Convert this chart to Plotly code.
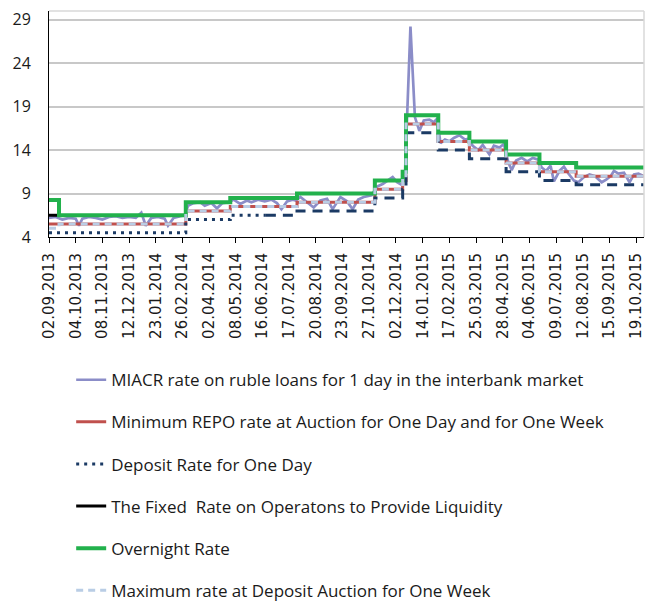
import plotly.graph_objects as go

# ---------------- data ----------------
tick_labels = ["02.09.2013", "04.10.2013", "08.11.2013", "12.12.2013", "23.01.2014",
               "26.02.2014", "02.04.2014", "08.05.2014", "16.06.2014", "17.07.2014",
               "20.08.2014", "23.09.2014", "27.10.2014", "02.12.2014", "14.01.2015",
               "17.02.2015", "25.03.2015", "28.04.2015", "04.06.2015", "09.07.2015",
               "12.08.2015", "15.09.2015", "19.10.2015"]
OBS_PER_LABEL = 24          # trading days between labelled dates
LAST_OBS = 535

# policy-rate step series: start of each regime (trading-day index) and rate
regime_start = [0, 9, 123, 163, 223, 293, 318, 321, 350, 378, 411, 441, 474]
overnight_rate = [8.25, 6.5, 8.0, 8.5, 9.0, 10.5, 11.5, 18.0, 16.0, 15.0, 13.5, 12.5, 12.0]
repo_min_rate = [5.5, 5.5, 7.0, 7.5, 8.0, 9.5, 10.5, 17.0, 15.0, 14.0, 12.5, 11.5, 11.0]
deposit_1d_rate = [4.5, 4.5, 6.0, 6.5, 7.0, 8.5, 9.5, 16.0, 14.0, 13.0, 11.5, 10.5, 10.0]
deposit_auction_max = [5.0, 5.5, 7.0, 7.5, 8.0, 9.5, 10.5, 17.0, 15.0, 14.0, 12.5, 11.5, 11.0]

fixed_x = [0, 9]
fixed_rate = [6.5, 6.5]

# MIACR overnight interbank rate
miacr_x = [0, 6, 12, 18, 24, 27, 30, 36, 42, 48, 54, 60, 66, 72, 78, 83, 87, 92, 98, 104,
           107, 112, 118, 122, 125, 130, 136, 140, 146, 151, 156, 162, 166, 172, 178, 182,
           188, 194, 200, 205, 209, 214, 219, 222, 226, 232, 238, 244, 250, 255, 262, 268,
           273, 278, 283, 290, 295, 300, 305, 309, 313, 317, 320, 322, 325, 329, 333, 337,
           342, 346, 349, 352, 356, 360, 364, 369, 374, 377, 381, 386, 390, 396, 400, 405,
           409, 413, 416, 420, 425, 430, 435, 440, 443, 447, 451, 454, 459, 463, 467, 472,
           476, 481, 486, 491, 497, 501, 505, 508, 512, 517, 522, 526, 530, 535]
miacr = [6.2, 6.3, 6.0, 6.2, 6.1, 5.3, 6.1, 6.3, 6.2, 6.0, 6.3, 6.4, 6.2, 6.3, 6.2, 6.8,
         5.3, 6.2, 6.3, 6.1, 5.3, 6.2, 6.4, 6.5, 7.6, 7.9, 8.0, 7.6, 7.9, 7.3, 7.9, 8.0,
         8.3, 7.8, 8.2, 8.0, 8.3, 8.1, 8.3, 7.9, 7.2, 8.1, 8.3, 8.2, 8.6, 8.0, 7.4, 8.2,
         8.4, 7.2, 8.6, 8.1, 7.2, 8.3, 8.6, 8.8, 9.8, 10.1, 10.5, 10.9, 10.3, 10.0, 11.0,
         17.3, 28.2, 17.8, 16.2, 17.4, 17.5, 17.2, 17.6, 14.8, 15.2, 15.0, 15.4, 15.7,
         15.2, 15.3, 14.5, 14.0, 14.6, 13.5, 14.5, 14.3, 14.7, 12.6, 11.7, 12.8, 13.1,
         12.7, 13.1, 12.9, 12.0, 11.6, 12.2, 10.4, 11.6, 12.1, 11.3, 10.5, 10.3, 10.9,
         11.2, 11.0, 10.3, 10.6, 11.0, 11.6, 11.3, 11.4, 10.3, 11.2, 11.3, 11.0]

# ---------------- helpers ----------------
def step_xy(starts, values):
    xs = list(starts) + [LAST_OBS]
    ys = list(values) + [values[-1]]
    return xs, ys

def split_at(xs, ys, cut):
    # split a step series (hv) into two pieces at index 'cut' (for styling only)
    left_x, left_y, right_x, right_y = [], [], [], []
    for xv, yv in zip(xs, ys):
        if xv < cut:
            left_x.append(xv); left_y.append(yv)
    cur = [yv for xv, yv in zip(xs, ys) if xv <= cut][-1]
    left_x.append(cut); left_y.append(cur)
    right_x.append(cut); right_y.append(cur)
    for xv, yv in zip(xs, ys):
        if xv > cut:
            right_x.append(xv); right_y.append(yv)
    return left_x, left_y, right_x, right_y

FONT = "Open Sans"
LEG_FONT = dict(family=FONT, size=17, color="#1a1a1a")

fig = go.Figure()

fig.add_trace(go.Scatter(
    x=miacr_x, y=miacr, mode="lines", name="MIACR rate on ruble loans for 1 day in the interbank market",
    line=dict(color="#8B8DC8", width=2.7), legendgroup="g1"))

rx, ry = step_xy(regime_start, repo_min_rate)
fig.add_trace(go.Scatter(
    x=rx, y=ry, mode="lines", line_shape="hv",
    name="Minimum REPO rate at Auction for One Day and for One Week",
    line=dict(color="#C0504D", width=3), legendgroup="g2"))

dx, dy = step_xy(regime_start, deposit_1d_rate)
lx, ly, qx, qy = split_at(dx, dy, 195)
fig.add_trace(go.Scatter(
    x=lx, y=ly, mode="lines", line_shape="hv", name="Deposit Rate for One Day",
    line=dict(color="#1B3A64", width=3, dash="3px,5px"), legendgroup="g3"))
fig.add_trace(go.Scatter(
    x=qx, y=qy, mode="lines", line_shape="hv", name="Deposit Rate for One Day",
    line=dict(color="#1B3A64", width=3, dash="10px,7px"), legendgroup="g3",
    showlegend=False))

fig.add_trace(go.Scatter(
    x=fixed_x, y=fixed_rate, mode="lines", line_shape="hv",
    name="The Fixed  Rate on Operatons to Provide Liquidity",
    line=dict(color="#000000", width=3), legendgroup="g4"))

ox, oy = step_xy(regime_start, overnight_rate)
fig.add_trace(go.Scatter(
    x=ox, y=oy, mode="lines", line_shape="hv", name="Overnight Rate",
    line=dict(color="#22B14C", width=4), legendgroup="g5"))

mx, my = step_xy(regime_start, deposit_auction_max)
fig.add_trace(go.Scatter(
    x=mx, y=my, mode="lines", line_shape="hv", name="Maximum rate at Deposit Auction for One Week",
    line=dict(color="#B9CDE5", width=3, dash="7px,5px"), legendgroup="g6"))

# the page body adds an 8px margin, so the figure is sized 8px smaller
fig.update_layout(
    width=646, height=595, autosize=False,
    margin=dict(l=41, r=10, t=3, b=366, autoexpand=False),
    paper_bgcolor="white", plot_bgcolor="white",
    showlegend=True,
    legend=dict(xref="container", yref="container", x=0.0978, y=0.4047,
                xanchor="left", yanchor="top",
                font=LEG_FONT, tracegroupgap=17, bgcolor="rgba(0,0,0,0)",
                traceorder="grouped"),
    shapes=[
        dict(type="line", xref="paper", yref="paper", x0=0, x1=1, y0=1, y1=1,
             line=dict(color="#D9D9D9", width=1.5)),
        dict(type="line", xref="paper", yref="paper", x0=1, x1=1, y0=0, y1=1,
             line=dict(color="#D9D9D9", width=1.5)),
    ],
)

fig.update_xaxes(
    range=[0, LAST_OBS],
    tickmode="array",
    tickvals=[i * OBS_PER_LABEL for i in range(len(tick_labels))],
    ticktext=tick_labels,
    tickangle=-90,
    ticks="outside", ticklen=5, tickcolor="#000000",
    showline=True, linecolor="#000000", linewidth=1,
    showgrid=False, zeroline=False, automargin=False,
    ticklabelstandoff=4,
    tickfont=dict(family="DejaVu Sans", size=15, color="#1a1a1a"),
)
fig.update_yaxes(
    range=[4, 30],
    tickmode="array", tickvals=[4, 9, 14, 19, 24, 29],
    showline=True, linecolor="#000000", linewidth=1,
    showgrid=True, gridcolor="#C8C8C8", gridwidth=1.5,
    zeroline=False, ticks="", automargin=False,
    ticklabelstandoff=14,
    tickfont=dict(family=FONT, size=16, color="#1a1a1a"),
)

fig.write_html("out.html")
